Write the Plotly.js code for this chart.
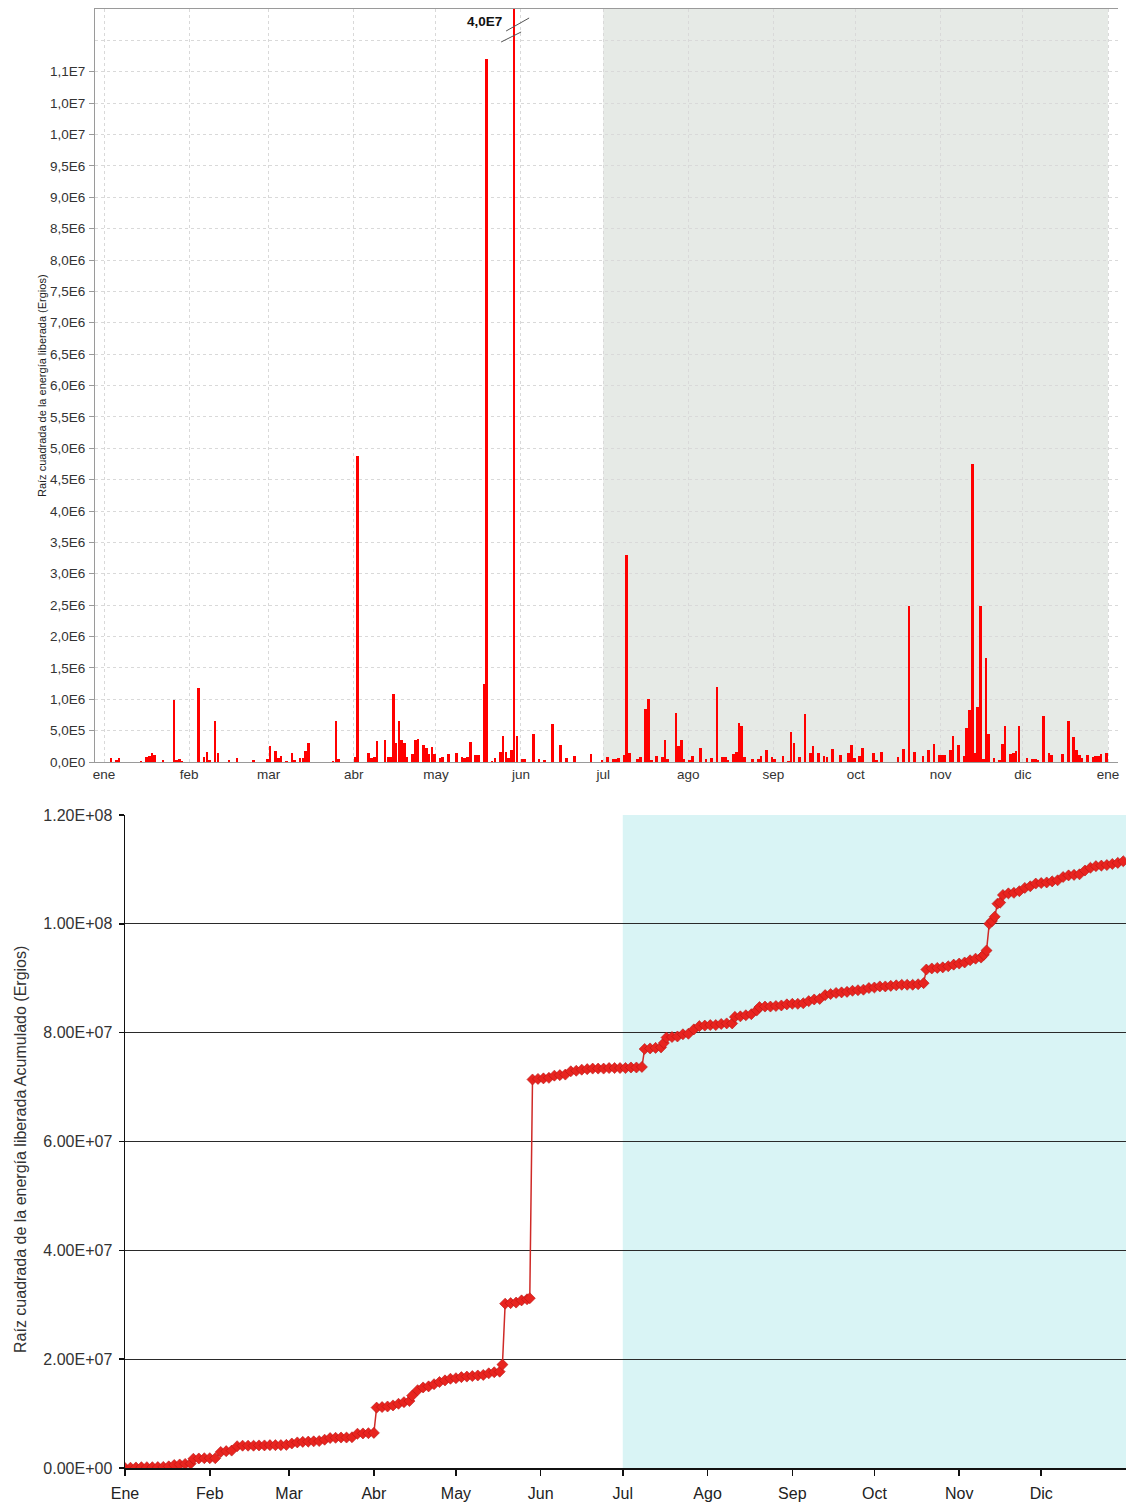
<!DOCTYPE html>
<html>
<head>
<meta charset="utf-8">
<script src="https://cdn.plot.ly/plotly-3.0.1.min.js"></script>
<style>
html,body{margin:0;padding:0;background:#ffffff;}
#chart{width:1126px;height:1507px;}
</style>
</head>
<body>
<div id="chart"></div>
<script>
// ---------------- DATA ----------------
const barDates = [
'2012-01-03','2012-01-05','2012-01-06','2012-01-14','2012-01-16','2012-01-17','2012-01-18','2012-01-19','2012-01-22','2012-01-26',
'2012-01-27','2012-01-28','2012-01-29','2012-02-04','2012-02-06','2012-02-07','2012-02-08','2012-02-10','2012-02-11','2012-02-15',
'2012-02-18','2012-02-24','2012-02-29','2012-03-01','2012-03-03','2012-03-04','2012-03-05','2012-03-07','2012-03-09','2012-03-10',
'2012-03-12','2012-03-13','2012-03-14','2012-03-15','2012-03-24','2012-03-25','2012-03-26','2012-04-01','2012-04-02','2012-04-06',
'2012-04-07','2012-04-08','2012-04-09','2012-04-12','2012-04-13','2012-04-14','2012-04-15','2012-04-16','2012-04-17','2012-04-18',
'2012-04-19','2012-04-20','2012-04-22','2012-04-23','2012-04-24','2012-04-26','2012-04-27','2012-04-28','2012-04-29','2012-04-30',
'2012-05-02','2012-05-03','2012-05-05','2012-05-08','2012-05-10','2012-05-11','2012-05-12','2012-05-13','2012-05-15','2012-05-16',
'2012-05-18','2012-05-19','2012-05-21','2012-05-22','2012-05-24','2012-05-25','2012-05-26','2012-05-27','2012-05-28','2012-05-29',
'2012-05-30','2012-06-01','2012-06-02','2012-06-05','2012-06-07','2012-06-09','2012-06-12','2012-06-15','2012-06-17','2012-06-20',
'2012-06-26','2012-06-30','2012-07-02','2012-07-04','2012-07-05','2012-07-06','2012-07-08','2012-07-09','2012-07-10','2012-07-13',
'2012-07-14','2012-07-16','2012-07-17','2012-07-18','2012-07-20','2012-07-22','2012-07-23','2012-07-24','2012-07-27','2012-07-28',
'2012-07-29','2012-07-30','2012-08-01','2012-08-02','2012-08-05','2012-08-07','2012-08-09','2012-08-11','2012-08-13','2012-08-14',
'2012-08-15','2012-08-17','2012-08-18','2012-08-19','2012-08-20','2012-08-21','2012-08-24','2012-08-26','2012-08-27','2012-08-29',
'2012-08-31','2012-09-01','2012-09-04','2012-09-06','2012-09-07','2012-09-08','2012-09-10','2012-09-12','2012-09-14','2012-09-15',
'2012-09-17','2012-09-19','2012-09-20','2012-09-22','2012-09-25','2012-09-28','2012-09-29','2012-09-30','2012-10-02','2012-10-03',
'2012-10-07','2012-10-08','2012-10-10','2012-10-16','2012-10-18','2012-10-20','2012-10-22','2012-10-25','2012-10-27','2012-10-29',
'2012-10-31','2012-11-01','2012-11-02','2012-11-04','2012-11-05','2012-11-07','2012-11-09','2012-11-10','2012-11-11','2012-11-12',
'2012-11-13','2012-11-14','2012-11-15','2012-11-16','2012-11-17','2012-11-18','2012-11-20','2012-11-22','2012-11-23','2012-11-24',
'2012-11-26','2012-11-27','2012-11-28','2012-11-29','2012-12-02','2012-12-04','2012-12-05','2012-12-06','2012-12-08','2012-12-10',
'2012-12-11','2012-12-15','2012-12-17','2012-12-19','2012-12-20','2012-12-21','2012-12-22','2012-12-24','2012-12-26','2012-12-27',
'2012-12-28','2012-12-29','2012-12-31'
];
const barValues = [
64000,27000,64000,16000,74000,100000,144000,117000,37000,984000,
37000,48000,16000,1180000,80000,160000,37000,660000,144000,37000,
64000,37000,48000,260000,176000,64000,100000,21000,144000,37000,
64000,64000,176000,303000,21000,660000,48000,74000,4870000,144000,
64000,74000,330000,356000,80000,80000,1080000,303000,660000,346000,
303000,74000,133000,346000,372000,271000,218000,133000,239000,133000,
64000,80000,133000,144000,80000,64000,80000,319000,117000,117000,
1250000,11200000,21000,64000,160000,410000,160000,64000,186000,40000000,
410000,48000,48000,452000,48000,27000,611000,271000,64000,90000,
128000,37000,74000,48000,48000,64000,117000,3300000,144000,53000,
74000,846000,1000000,37000,90000,80000,346000,48000,782000,260000,
356000,48000,37000,100000,223000,48000,64000,1200000,80000,80000,
37000,133000,154000,622000,569000,74000,48000,48000,90000,186000,
74000,53000,90000,21000,473000,303000,74000,771000,144000,260000,
144000,90000,80000,213000,112000,144000,271000,64000,90000,218000,
144000,37000,160000,74000,207000,2480000,160000,90000,186000,292000,
117000,117000,117000,197000,420000,271000,100000,543000,835000,4750000,
144000,878000,2480000,53000,1660000,452000,64000,37000,287000,580000,
128000,144000,180000,569000,64000,53000,53000,37000,729000,144000,
117000,128000,660000,399000,186000,117000,64000,112000,74000,100000,
90000,133000,144000
];

const cumDates = [
'2012-01-01','2012-01-03','2012-01-05','2012-01-07','2012-01-09','2012-01-11','2012-01-13','2012-01-15','2012-01-17','2012-01-19',
'2012-01-21','2012-01-23','2012-01-25','2012-01-26','2012-01-28','2012-01-30','2012-02-01','2012-02-03','2012-02-05','2012-02-07',
'2012-02-09','2012-02-11','2012-02-13','2012-02-15','2012-02-17','2012-02-19','2012-02-21','2012-02-23','2012-02-25','2012-02-27',
'2012-02-29','2012-03-02','2012-03-04','2012-03-06','2012-03-08','2012-03-10','2012-03-12','2012-03-14','2012-03-16','2012-03-18',
'2012-03-20','2012-03-22','2012-03-24','2012-03-26','2012-03-28','2012-03-30','2012-04-01','2012-04-02','2012-04-04','2012-04-06',
'2012-04-08','2012-04-10','2012-04-12','2012-04-14','2012-04-15','2012-04-17','2012-04-19','2012-04-21','2012-04-23','2012-04-25',
'2012-04-27','2012-04-29','2012-05-01','2012-05-03','2012-05-05','2012-05-07','2012-05-09','2012-05-11','2012-05-13','2012-05-15',
'2012-05-17','2012-05-18','2012-05-19','2012-05-21','2012-05-23','2012-05-25','2012-05-27','2012-05-28','2012-05-29','2012-05-31',
'2012-06-02','2012-06-04','2012-06-06','2012-06-08','2012-06-10','2012-06-12','2012-06-14','2012-06-16','2012-06-18','2012-06-20',
'2012-06-22','2012-06-24','2012-06-26','2012-06-28','2012-06-30','2012-07-02','2012-07-04','2012-07-06','2012-07-08','2012-07-09',
'2012-07-11','2012-07-13','2012-07-15','2012-07-16','2012-07-17','2012-07-19','2012-07-21','2012-07-23','2012-07-25','2012-07-27',
'2012-07-29','2012-07-31','2012-08-02','2012-08-04','2012-08-06','2012-08-08','2012-08-10','2012-08-11','2012-08-13','2012-08-15',
'2012-08-17','2012-08-19','2012-08-20','2012-08-22','2012-08-24','2012-08-26','2012-08-28','2012-08-30','2012-09-01','2012-09-03',
'2012-09-05','2012-09-07','2012-09-09','2012-09-11','2012-09-13','2012-09-15','2012-09-17','2012-09-19','2012-09-21','2012-09-23',
'2012-09-25','2012-09-27','2012-09-29','2012-10-01','2012-10-03','2012-10-05','2012-10-07','2012-10-09','2012-10-11','2012-10-13',
'2012-10-15','2012-10-17','2012-10-19','2012-10-20','2012-10-22','2012-10-24','2012-10-26','2012-10-28','2012-10-30','2012-11-01',
'2012-11-03','2012-11-05','2012-11-07','2012-11-09','2012-11-10','2012-11-11','2012-11-12','2012-11-13','2012-11-14','2012-11-15',
'2012-11-16','2012-11-17','2012-11-19','2012-11-21','2012-11-23','2012-11-25','2012-11-27','2012-11-29','2012-12-01','2012-12-03',
'2012-12-05','2012-12-07','2012-12-09','2012-12-11','2012-12-13','2012-12-15','2012-12-17','2012-12-19','2012-12-21','2012-12-23',
'2012-12-25','2012-12-27','2012-12-29','2012-12-31'
];
const cumValues = [
0,0.5e5,1.0e5,1.5e5,1.5e5,1.5e5,1.7e5,2.0e5,3.0e5,5.5e5,
6.5e5,7.5e5,8.0e5,1.7e6,1.75e6,1.8e6,1.8e6,1.8e6,2.95e6,3.1e6,
3.2e6,4.0e6,4.1e6,4.1e6,4.1e6,4.15e6,4.15e6,4.2e6,4.2e6,4.2e6,
4.25e6,4.5e6,4.7e6,4.8e6,4.85e6,4.9e6,4.95e6,5.2e6,5.5e6,5.55e6,
5.6e6,5.6e6,5.65e6,6.3e6,6.35e6,6.4e6,6.45e6,1.11e7,1.12e7,1.13e7,
1.15e7,1.18e7,1.21e7,1.23e7,1.33e7,1.43e7,1.48e7,1.50e7,1.54e7,1.58e7,
1.61e7,1.64e7,1.65e7,1.67e7,1.68e7,1.69e7,1.70e7,1.71e7,1.74e7,1.76e7,
1.77e7,1.90e7,3.02e7,3.03e7,3.04e7,3.08e7,3.10e7,3.12e7,7.14e7,7.15e7,
7.16e7,7.17e7,7.21e7,7.22e7,7.23e7,7.29e7,7.30e7,7.32e7,7.33e7,7.34e7,
7.34e7,7.34e7,7.35e7,7.35e7,7.35e7,7.35e7,7.36e7,7.36e7,7.37e7,7.70e7,
7.71e7,7.72e7,7.73e7,7.81e7,7.91e7,7.92e7,7.93e7,7.97e7,7.98e7,8.06e7,
8.12e7,8.13e7,8.14e7,8.14e7,8.16e7,8.17e7,8.17e7,8.29e7,8.30e7,8.32e7,
8.34e7,8.41e7,8.47e7,8.48e7,8.48e7,8.49e7,8.50e7,8.52e7,8.53e7,8.53e7,
8.54e7,8.58e7,8.61e7,8.62e7,8.69e7,8.71e7,8.73e7,8.74e7,8.75e7,8.77e7,
8.78e7,8.79e7,8.82e7,8.83e7,8.85e7,8.85e7,8.86e7,8.87e7,8.88e7,8.88e7,
8.88e7,8.89e7,8.91e7,9.16e7,9.18e7,9.19e7,9.20e7,9.22e7,9.25e7,9.27e7,
9.29e7,9.33e7,9.36e7,9.38e7,9.43e7,9.51e7,1.000e8,1.005e8,1.013e8,1.037e8,
1.039e8,1.053e8,1.056e8,1.057e8,1.060e8,1.066e8,1.069e8,1.074e8,1.075e8,1.076e8,
1.078e8,1.080e8,1.086e8,1.089e8,1.090e8,1.091e8,1.098e8,1.103e8,1.106e8,1.107e8,
1.108e8,1.110e8,1.112e8,1.115e8
];

const topMonthTicks = ['2012-01-01','2012-02-01','2012-03-01','2012-04-01','2012-05-01','2012-06-01','2012-07-01','2012-08-01','2012-09-01','2012-10-01','2012-11-01','2012-12-01','2013-01-01'];
const topMonthLabels = ['ene','feb','mar','abr','may','jun','jul','ago','sep','oct','nov','dic','ene'];
const bottomMonthTicks = ['2012-01-01','2012-02-01','2012-03-01','2012-04-01','2012-05-01','2012-06-01','2012-07-01','2012-08-01','2012-09-01','2012-10-01','2012-11-01','2012-12-01'];
const bottomMonthLabels = ['Ene','Feb','Mar','Abr','May','Jun','Jul','Ago','Sep','Oct','Nov','Dic'];
const topYTickValues = [0,5e5,1e6,1.5e6,2e6,2.5e6,3e6,3.5e6,4e6,4.5e6,5e6,5.5e6,6e6,6.5e6,7e6,7.5e6,8e6,8.5e6,9e6,9.5e6,1e7,1.05e7,1.1e7];
const topYTickLabels = ['0,0E0','5,0E5','1,0E6','1,5E6','2,0E6','2,5E6','3,0E6','3,5E6','4,0E6','4,5E6','5,0E6','5,5E6','6,0E6','6,5E6','7,0E6','7,5E6','8,0E6','8,5E6','9,0E6','9,5E6','1,0E7','1,0E7','1,1E7'];
const topYExtraGrid = [1.15e7];
const bottomYTickValues = [0,2e7,4e7,6e7,8e7,1e8,1.2e8];
const bottomYTickLabels = ['0.00E+00','2.00E+07','4.00E+07','6.00E+07','8.00E+07','1.00E+08','1.20E+08'];
const shadeStart = '2012-07-01';
const shadeEnd = '2013-01-01';
const peakLabel = '4,0E7';
const topYTitle = 'Raíz cuadrada de la energía liberada (Ergios)';
const bottomYTitle = 'Raíz cuadrada de la energía liberada Acumulado (Ergios)';

// ---------------- LAYOUT ----------------
const W = 1126, H = 1507;
const DAY = 86400000;
const fx = px => px / W;
const fy = py => (H - py) / H;

let peakIdx = 0;
barValues.forEach((v, i) => { if (v > barValues[peakIdx]) peakIdx = i; });
const peakX = barDates[peakIdx] + ' 12:00';

const FONT = 'Liberation Sans, Arial, sans-serif';

const traces = [
  {
    type: 'bar',
    x: barDates,
    y: barValues,
    xperiod: DAY,
    xperiodalignment: 'middle',
    width: DAY * 0.95,
    marker: {color: '#ff0000', line: {width: 0}},
    xaxis: 'x', yaxis: 'y',
    hoverinfo: 'skip'
  },
  {
    type: 'scatter',
    mode: 'lines+markers',
    x: cumDates,
    y: cumValues,
    line: {color: '#cf2a27', width: 1.5},
    marker: {symbol: 'diamond', size: 8.5, color: '#e8241f', line: {color: '#b81414', width: 0.6}},
    xaxis: 'x2', yaxis: 'y2',
    hoverinfo: 'skip'
  }
];

const layout = {
  width: W, height: H,
  margin: {l: 0, r: 0, t: 0, b: 0, pad: 0},
  paper_bgcolor: '#ffffff',
  plot_bgcolor: '#ffffff',
  showlegend: false,
  bargap: 0,
  font: {family: FONT, color: '#333333'},
  xaxis: {
    domain: [fx(95), fx(1118)],
    anchor: 'y',
    type: 'date',
    range: ['2011-12-28 17:14', '2013-01-04 15:22'],
    tickmode: 'array',
    tickvals: topMonthTicks,
    ticktext: topMonthLabels,
    ticks: '',
    showgrid: true,
    gridcolor: '#d9d9d9',
    griddash: '3px,3px',
    gridwidth: 1,
    showline: true,
    linecolor: '#9a9a9a',
    linewidth: 1,
    mirror: true,
    zeroline: false,
    tickfont: {family: FONT, size: 13.5, color: '#333333'},
    ticklabelstandoff: 0
  },
  yaxis: {
    domain: [fy(762), fy(9)],
    anchor: 'x',
    range: [0, 1.2e7],
    tickmode: 'array',
    tickvals: topYTickValues,
    ticktext: topYTickLabels,
    ticks: 'outside',
    ticklen: 5,
    tickcolor: '#9a9a9a',
    showgrid: true,
    gridcolor: '#d9d9d9',
    griddash: '3px,3px',
    gridwidth: 1,
    minor: {tickmode: 'array', tickvals: topYExtraGrid, showgrid: true, gridcolor: '#d9d9d9', griddash: '3px,3px', gridwidth: 1, ticks: ''},
    showline: true,
    linecolor: '#9a9a9a',
    linewidth: 1,
    zeroline: false,
    tickfont: {family: FONT, size: 13.5, color: '#333333'},
    ticklabelstandoff: 1
  },
  xaxis2: {
    domain: [fx(125), 1],
    anchor: 'y2',
    type: 'date',
    range: ['2012-01-01', '2013-01-01'],
    tickmode: 'array',
    tickvals: bottomMonthTicks,
    ticktext: bottomMonthLabels,
    ticks: 'outside',
    ticklen: 6,
    tickwidth: 1.5,
    tickcolor: '#111111',
    showgrid: false,
    showline: true,
    linecolor: '#111111',
    linewidth: 1.5,
    zeroline: false,
    tickfont: {family: FONT, size: 16, color: '#222222'},
    ticklabelstandoff: 4
  },
  yaxis2: {
    domain: [fy(1468), fy(815)],
    anchor: 'x2',
    range: [0, 1.2e8],
    tickmode: 'array',
    tickvals: bottomYTickValues,
    ticktext: bottomYTickLabels,
    ticks: 'outside',
    ticklen: 5,
    tickwidth: 1.5,
    tickcolor: '#111111',
    showgrid: true,
    gridcolor: '#2a2a2a',
    gridwidth: 1.3,
    showline: true,
    linecolor: '#111111',
    linewidth: 1.5,
    zeroline: false,
    tickfont: {family: FONT, size: 16, color: '#333333'},
    ticklabelstandoff: 3
  },
  shapes: [
    {type: 'rect', xref: 'x', yref: 'y domain', x0: shadeStart, x1: shadeEnd, y0: 0, y1: 1,
     fillcolor: '#e6eae6', line: {width: 0}, layer: 'below'},
    {type: 'rect', xref: 'x2', yref: 'y2 domain', x0: shadeStart, x1: shadeEnd, y0: 0, y1: 1,
     fillcolor: '#d9f4f5', line: {width: 0}, layer: 'below'},
    // axis-break marks across the clipped peak bar
    {type: 'line', xref: 'x', xsizemode: 'pixel', xanchor: peakX, x0: -8, x1: 15,
     yref: 'y', ysizemode: 'pixel', yanchor: 1.2e7, y0: -22, y1: -9,
     line: {color: '#555555', width: 1}, layer: 'above'},
    {type: 'line', xref: 'x', xsizemode: 'pixel', xanchor: peakX, x0: -13, x1: 7,
     yref: 'y', ysizemode: 'pixel', yanchor: 1.2e7, y0: -33, y1: -23,
     line: {color: '#555555', width: 1}, layer: 'above'}
  ],
  annotations: [
    {xref: 'x', yref: 'paper', x: peakX, y: fy(22), xanchor: 'right', yanchor: 'middle', xshift: -10,
     text: '<b>' + peakLabel + '</b>', showarrow: false, font: {family: FONT, size: 13.5, color: '#111111'}},
    {xref: 'paper', yref: 'paper', x: fx(42), y: fy(386), xanchor: 'center', yanchor: 'middle',
     textangle: -90, text: topYTitle, showarrow: false, font: {family: FONT, size: 11, color: '#222222'}},
    {xref: 'paper', yref: 'paper', x: fx(20), y: fy(1150), xanchor: 'center', yanchor: 'middle',
     textangle: -90, text: bottomYTitle, showarrow: false, font: {family: FONT, size: 16, color: '#333333'}}
  ]
};

Plotly.newPlot('chart', traces, layout, {staticPlot: true, displayModeBar: false});
</script>
</body>
</html>
